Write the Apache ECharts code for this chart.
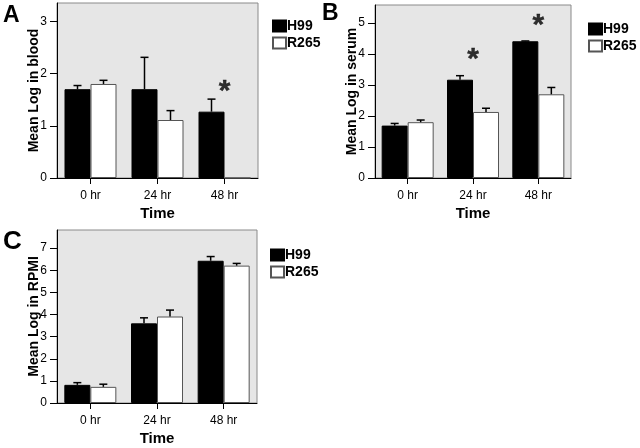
<!DOCTYPE html>
<html>
<head>
<meta charset="utf-8">
<script src="https://cdn.jsdelivr.net/npm/echarts@6/dist/echarts.min.js"></script>
<style>
html,body{margin:0;padding:0;background:#fff;}
#chart{width:640px;height:448px;}
</style>
</head>
<body>
<div id="chart"></div>
<script>
// ---------- DATA ----------
var categories = ['0 hr', '24 hr', '48 hr'];
var seriesNames = ['H99', 'R265'];

// Panel A: Mean Log in blood
var aH99 = [1.70, 1.70, 1.27];
var aR265 = [1.80, 1.11, 0];
var aH99ErrTop = [1.77, 2.31, 1.51];
var aR265ErrTop = [1.87, 1.29, null];
var aStars = [[2, 1.77]];
var aTicks = [0, 1, 2, 3];

// Panel B: Mean Log in serum
var bH99 = [1.69, 3.17, 4.41];
var bR265 = [1.80, 2.13, 2.70];
var bH99ErrTop = [1.76, 3.30, 4.42];
var bR265ErrTop = [1.87, 2.25, 2.92];
var bStars = [[1, 4.02], [2, 5.10]];
var bTicks = [0, 1, 2, 3, 4, 5];

// Panel C: Mean Log in RPMI
var cH99 = [0.82, 3.60, 6.43];
var cR265 = [0.73, 3.91, 6.21];
var cH99ErrTop = [0.92, 3.85, 6.62];
var cR265ErrTop = [0.85, 4.20, 6.31];
var cStars = [];
var cTicks = [0, 1, 2, 3, 4, 5, 6, 7];

var panels = [
  {letter: 'A', yName: 'Mean Log in blood', max: 3.35, ticks: aTicks, h99: aH99, r265: aR265, h99Err: aH99ErrTop, r265Err: aR265ErrTop, stars: aStars,
   grid: {left: 57, top: 3, width: 201, height: 175}, legend: {left: 272, top: 19}, letterPos: [3, 4], letterSize: 23},
  {letter: 'B', yName: 'Mean Log in serum', max: 5.58, ticks: bTicks, h99: bH99, r265: bR265, h99Err: bH99ErrTop, r265Err: bR265ErrTop, stars: bStars,
   grid: {left: 375, top: 5, width: 196, height: 173}, legend: {left: 588, top: 22}, letterPos: [322, 2], letterSize: 23},
  {letter: 'C', yName: 'Mean Log in RPMI', max: 7.82, ticks: cTicks, h99: cH99, r265: cR265, h99Err: cH99ErrTop, r265Err: cR265ErrTop, stars: cStars,
   grid: {left: 57, top: 230, width: 200, height: 173}, legend: {left: 270, top: 248}, letterPos: [3, 229], letterSize: 26}
];

// ---------- CHART ----------
var FONT = 'Liberation Sans, Arial, sans-serif';
var BAR_W = 26;

function errRender(offset) {
  return function (params, api) {
    var top = api.value(1);
    var base = api.value(2);
    if (top == null || isNaN(top)) return null;
    var p1 = api.coord([api.value(0), base]);
    var p2 = api.coord([api.value(0), top]);
    var x = p1[0] + offset;
    return {
      type: 'group',
      children: [
        {type: 'line', shape: {x1: x, y1: p1[1], x2: x, y2: p2[1]}, style: {stroke: '#000', lineWidth: 1.5}},
        {type: 'line', shape: {x1: x - 4, y1: p2[1], x2: x + 4, y2: p2[1]}, style: {stroke: '#000', lineWidth: 1.5}}
      ]
    };
  };
}

var option = {
  animation: false,
  backgroundColor: '#fff',
  textStyle: {fontFamily: FONT},
  grid: [], xAxis: [], yAxis: [], series: [], legend: [], graphic: []
};

panels.forEach(function (p, gi) {
  option.grid.push({
    left: p.grid.left, top: p.grid.top, width: p.grid.width, height: p.grid.height,
    show: true, backgroundColor: '#e6e6e6', borderColor: '#8a8a8a', borderWidth: 1
  });
  option.xAxis.push({
    type: 'category', gridIndex: gi, data: categories,
    name: 'Time', nameLocation: 'middle', nameGap: 28, nameMoveOverlap: false,
    nameTextStyle: {fontFamily: FONT, fontSize: 15, fontWeight: 'bold', color: '#000'},
    axisLine: {show: true, lineStyle: {color: '#000', width: 1}},
    axisTick: {show: true, alignWithLabel: true, length: 6, lineStyle: {color: '#000'}},
    axisLabel: {fontFamily: FONT, fontSize: 12, color: '#000', margin: 12},
    splitLine: {show: false}
  });
  option.yAxis.push({
    type: 'value', gridIndex: gi, min: 0, max: p.max, interval: 1,
    name: p.yName, nameLocation: 'middle', nameGap: 16, nameRotate: 90, nameMoveOverlap: false,
    nameTextStyle: {fontFamily: FONT, fontSize: 14, fontWeight: 'bold', color: '#000'},
    axisLine: {show: true, lineStyle: {color: '#000', width: 1}},
    axisTick: {show: true, length: 7, lineStyle: {color: '#000'}, customValues: p.ticks},
    axisLabel: {fontFamily: FONT, fontSize: 12, color: '#000', margin: 10, customValues: p.ticks,
      formatter: function (v) { return Number.isInteger(v) ? String(v) : ''; }},
    splitLine: {show: false}
  });
  option.series.push({
    type: 'bar', name: seriesNames[0], xAxisIndex: gi, yAxisIndex: gi, data: p.h99,
    barWidth: BAR_W, barGap: '0%',
    itemStyle: {color: '#000', borderColor: '#000', borderWidth: 1}
  });
  option.series.push({
    type: 'bar', name: seriesNames[1], xAxisIndex: gi, yAxisIndex: gi, data: p.r265,
    barWidth: BAR_W, barGap: '0%',
    itemStyle: {color: '#fff', borderColor: '#555', borderWidth: 1}
  });
  option.series.push({
    type: 'custom', name: 'errH99_' + gi, xAxisIndex: gi, yAxisIndex: gi, z: 5,
    renderItem: errRender(-BAR_W / 2),
    encode: {x: 0, y: 1},
    data: p.h99Err.map(function (t, i) { return [i, t, p.h99[i]]; })
  });
  option.series.push({
    type: 'custom', name: 'errR265_' + gi, xAxisIndex: gi, yAxisIndex: gi, z: 5,
    renderItem: errRender(BAR_W / 2),
    encode: {x: 0, y: 1},
    data: p.r265Err.map(function (t, i) { return [i, t, p.r265[i]]; }).filter(function (d) { return d[1] != null; })
  });
  if (p.stars.length) {
    option.series.push({
      type: 'scatter', name: 'star_' + gi, xAxisIndex: gi, yAxisIndex: gi, z: 6,
      symbolSize: 1, itemStyle: {color: 'rgba(0,0,0,0)'},
      data: p.stars.map(function (s) { return [categories[s[0]], s[1]]; }),
      label: {show: true, position: 'inside', formatter: '*', fontFamily: FONT, fontSize: 30, fontWeight: 'bold', color: '#000', offset: [0, 6],
        textBorderColor: '#000', textBorderWidth: 0.4}
    });
  }
  option.legend.push({
    data: seriesNames, orient: 'vertical', left: p.legend.left, top: p.legend.top,
    icon: 'rect', itemWidth: 13, itemHeight: 11, itemGap: 3, padding: 0,
    selectedMode: false,
    textStyle: {fontFamily: FONT, fontSize: 14, fontWeight: 'bold', color: '#000', padding: [0, 0, 0, -4]}
  });
  option.graphic.push({
    type: 'text', left: p.letterPos[0], top: p.letterPos[1],
    style: {text: p.letter, font: 'bold ' + p.letterSize + 'px ' + FONT, fill: '#000'}
  });
});

var chart = echarts.init(document.getElementById('chart'), null, {renderer: 'canvas'});
chart.setOption(option);
</script>
</body>
</html>
